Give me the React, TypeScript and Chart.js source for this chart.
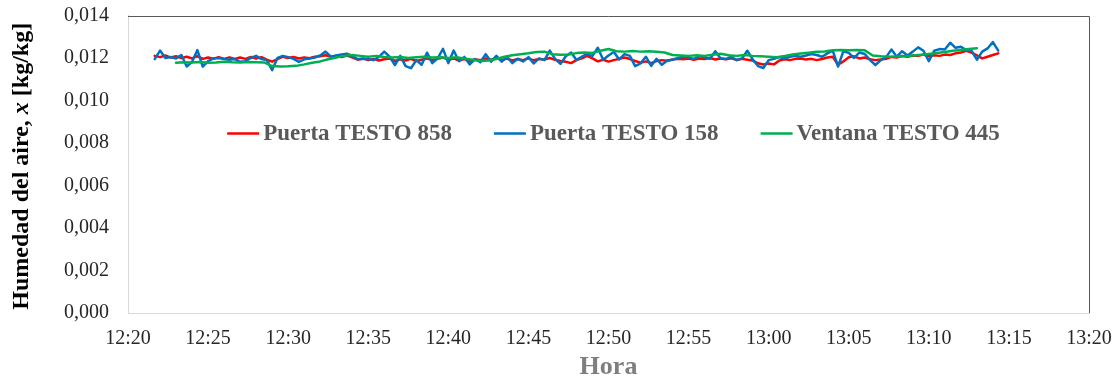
import { useEffect, useRef } from "react";
import { Chart, registerables } from "chart.js";

Chart.register(...registerables);

// Series shown in the legend
const SERIES_NAMES = ["Puerta TESTO 858", "Puerta TESTO 158", "Ventana TESTO 445"];
const SERIES_COLORS = ["#FF0000", "#0070C0", "#00B050"];

// Axis labels
const X_TITLE = "Hora";
const Y_TITLE_PARTS = ["Humedad del aire, ", "x", " [kg/kg]"];
const X_TICKS = ["12:20", "12:25", "12:30", "12:35", "12:40", "12:45", "12:50", "12:55", "13:00", "13:05", "13:10", "13:15", "13:20"];
const Y_TICKS = ["0,000", "0,002", "0,004", "0,006", "0,008", "0,010", "0,012", "0,014"];

// Time axis, minutes since midnight
const X_MIN = 740; // 12:20
const X_MAX = 800; // 13:20

// Door loggers: first reading 12:21:40, one reading every 20 s
const PUERTA_START = 741 + 40 / 60;
const PUERTA_STEP = 20 / 60;
// Window logger: first reading 12:23:00, one reading every 30 s
const VENTANA_START = 743;
const VENTANA_STEP = 30 / 60;

// Air humidity readings, kg/kg
const PUERTA_858 = [
  0.0121, 0.01204, 0.01212, 0.01202, 0.01208, 0.0120, 0.01206, 0.01198, 0.01209, 0.01196,
  0.01202, 0.01197, 0.01204, 0.01196, 0.01203, 0.01195, 0.01202, 0.01196, 0.01205, 0.01198,
  0.01204, 0.01192, 0.01183, 0.01195, 0.01206, 0.0120, 0.01205, 0.01198, 0.01203, 0.01199,
  0.01206, 0.01208, 0.01213, 0.01206, 0.0121, 0.01204, 0.01212, 0.01203, 0.01192, 0.01198,
  0.0119, 0.01196, 0.01188, 0.01194, 0.01198, 0.01186, 0.01194, 0.01188, 0.01196, 0.01186,
  0.01192, 0.01198, 0.0119, 0.01196, 0.01202, 0.01192, 0.01198, 0.01188, 0.01195, 0.01186,
  0.01194, 0.0119, 0.01198, 0.01192, 0.01199, 0.01191, 0.01197, 0.01188, 0.01195, 0.0119,
  0.01198, 0.01189, 0.01195, 0.01193, 0.0120, 0.01192, 0.01186, 0.01182, 0.01176, 0.0119,
  0.01198, 0.0121, 0.01198, 0.01184, 0.01192, 0.01183, 0.0119, 0.01196, 0.01202, 0.01195,
  0.01186, 0.01178, 0.01184, 0.01176, 0.01186, 0.0119, 0.01187, 0.01193, 0.01196, 0.01194,
  0.01198, 0.01192, 0.01197, 0.01195, 0.0120, 0.01193, 0.01198, 0.01194, 0.01199, 0.01191,
  0.01196, 0.01192, 0.01188, 0.01175, 0.01169, 0.01174, 0.0117, 0.01188, 0.01194, 0.0119,
  0.01196, 0.01198, 0.01193, 0.01196, 0.0119, 0.01195, 0.01202, 0.01206, 0.01168, 0.01184,
  0.01204, 0.01208, 0.01198, 0.01202, 0.01194, 0.0119, 0.01193, 0.01196, 0.01205, 0.01202,
  0.0121, 0.01206, 0.01212, 0.0121, 0.01216, 0.01208, 0.01213, 0.0121, 0.01216, 0.01214,
  0.01222, 0.01226, 0.01234, 0.01225, 0.01212, 0.01198, 0.01206, 0.01214, 0.01222,
];

const PUERTA_158 = [
  0.01195, 0.01235, 0.0120, 0.01205, 0.01198, 0.01214, 0.0116, 0.01182, 0.01237, 0.0116,
  0.01185, 0.01198, 0.0120, 0.01195, 0.01192, 0.01195, 0.01182, 0.01185, 0.0120, 0.0121,
  0.01195, 0.0119, 0.01143, 0.0120, 0.0121, 0.01204, 0.01196, 0.01182, 0.01194, 0.01198,
  0.01202, 0.01212, 0.0123, 0.01206, 0.01212, 0.01216, 0.0122, 0.0121, 0.01195, 0.01196,
  0.01195, 0.0119, 0.01205, 0.0123, 0.01206, 0.01167, 0.0121, 0.01162, 0.01152, 0.0119,
  0.01168, 0.01225, 0.01176, 0.01198, 0.01243, 0.01176, 0.01235, 0.01185, 0.01205, 0.0117,
  0.01195, 0.0118, 0.01218, 0.01183, 0.0121, 0.01183, 0.01206, 0.01176, 0.01196, 0.01184,
  0.01204, 0.01175, 0.01198, 0.0119, 0.01235, 0.01196, 0.01172, 0.01208, 0.01226, 0.01191,
  0.01206, 0.01218, 0.0121, 0.01248, 0.01192, 0.01212, 0.01228, 0.01193, 0.01218, 0.0121,
  0.01162, 0.01175, 0.01206, 0.01163, 0.01196, 0.01168, 0.01188, 0.01192, 0.0120, 0.01206,
  0.01203, 0.01196, 0.01208, 0.01204, 0.01196, 0.01232, 0.01198, 0.01195, 0.01206, 0.0119,
  0.01198, 0.01234, 0.01194, 0.01162, 0.01153, 0.0119, 0.01196, 0.01204, 0.01199, 0.01206,
  0.0121, 0.01206, 0.01212, 0.01219, 0.01214, 0.01206, 0.01222, 0.01235, 0.0116, 0.01232,
  0.01224, 0.0120, 0.01226, 0.01219, 0.0119, 0.01167, 0.0119, 0.01204, 0.0124, 0.01206,
  0.01232, 0.01212, 0.0123, 0.0125, 0.01234, 0.01185, 0.01234, 0.01242, 0.0124, 0.01272,
  0.01248, 0.01253, 0.01237, 0.01234, 0.01192, 0.0123, 0.01245, 0.01275, 0.01235,
];

const VENTANA_445 = [
  0.01178, 0.0118, 0.01179, 0.01181, 0.01178, 0.01179, 0.01182, 0.0118, 0.01179, 0.01181,
  0.0118, 0.01179, 0.01162, 0.0116, 0.01161, 0.01163, 0.0117, 0.01178, 0.01184, 0.01194,
  0.01202, 0.0121, 0.01214, 0.0121, 0.01206, 0.0121, 0.01205, 0.01202, 0.01205, 0.0120,
  0.01203, 0.01206, 0.01202, 0.01204, 0.0120, 0.01203, 0.01198, 0.01192, 0.01186, 0.01188,
  0.01195, 0.01206, 0.01213, 0.01218, 0.01222, 0.01228, 0.0123, 0.01218, 0.01215, 0.01216,
  0.01223, 0.01226, 0.01224, 0.01234, 0.01242, 0.01232, 0.0123, 0.01233, 0.0123, 0.01232,
  0.01229, 0.01226, 0.01214, 0.01212, 0.0121, 0.01213, 0.0121, 0.01215, 0.0122, 0.01213,
  0.0121, 0.01214, 0.0121, 0.01208, 0.01206, 0.01204, 0.01209, 0.01216, 0.01221, 0.01225,
  0.01229, 0.01231, 0.01236, 0.01238, 0.01236, 0.01238, 0.01236, 0.01212, 0.01208, 0.01206,
  0.01207, 0.01208, 0.01212, 0.01215, 0.01219, 0.01223, 0.01228, 0.01234, 0.01238, 0.01242,
  0.01246,
];

const SERIF = "'Liberation Serif', 'Times New Roman', serif";

function toPoints(values: number[], start: number, step: number) {
  return values.map((y, i) => ({ x: start + i * step, y }));
}

// Label overhang is handled by the explicit layout padding
function clearScalePadding(scale: any) {
  scale.paddingTop = 0;
  scale.paddingBottom = 0;
  scale.paddingLeft = 0;
  scale.paddingRight = 0;
}

// Frame, in-plot legend and axis titles
const decorPlugin = {
  id: "decor",
  afterDraw(chart: any) {
    const { ctx, chartArea: a } = chart;
    ctx.save();

    // dark top and right edges of the plot frame
    ctx.strokeStyle = "#595959";
    ctx.lineWidth = 1;
    ctx.beginPath();
    ctx.moveTo(a.left, Math.round(a.top) + 0.5);
    ctx.lineTo(Math.round(a.right) + 0.5, Math.round(a.top) + 0.5);
    ctx.lineTo(Math.round(a.right) + 0.5, a.bottom);
    ctx.stroke();

    // legend, centred inside the plot
    ctx.font = `bold 23px ${SERIF}`;
    const lineLen = 32;
    const lineGap = 4;
    const itemGap = 42;
    const widths = SERIES_NAMES.map((n) => ctx.measureText(n).width);
    const total = widths.reduce((s, w) => s + w + lineLen + lineGap, 0) + itemGap * (SERIES_NAMES.length - 1);
    let x = (a.left + a.right) / 2 + 5 - total / 2;
    const ly = a.top + 118;
    ctx.textBaseline = "middle";
    ctx.textAlign = "left";
    SERIES_NAMES.forEach((name, i) => {
      ctx.strokeStyle = SERIES_COLORS[i];
      ctx.lineWidth = 2.5;
      ctx.beginPath();
      ctx.moveTo(x, ly);
      ctx.lineTo(x + lineLen, ly);
      ctx.stroke();
      x += lineLen + lineGap;
      ctx.fillStyle = "#595959";
      ctx.fillText(name, x, ly + 1);
      x += widths[i] + itemGap;
    });

    // x axis title
    ctx.font = `bold 26px ${SERIF}`;
    ctx.fillStyle = "#7F7F7F";
    ctx.textAlign = "center";
    ctx.fillText(X_TITLE, (a.left + a.right) / 2, 367);

    // y axis title, rotated, with an italic variable
    const fonts = [`bold 24px ${SERIF}`, `italic bold 24px ${SERIF}`, `bold 24px ${SERIF}`];
    const partW = Y_TITLE_PARTS.map((p, i) => {
      ctx.font = fonts[i];
      return ctx.measureText(p).width;
    });
    const fullW = partW.reduce((s, w) => s + w, 0);
    ctx.translate(22, (a.top + a.bottom) / 2 + 2);
    ctx.rotate(-Math.PI / 2);
    ctx.textAlign = "left";
    ctx.fillStyle = "#000000";
    let px = -fullW / 2;
    Y_TITLE_PARTS.forEach((p, i) => {
      ctx.font = fonts[i];
      ctx.fillText(p, px, 0);
      px += partW[i];
    });

    ctx.restore();
  },
};

export default function App() {
  const canvasRef = useRef<HTMLCanvasElement | null>(null);

  useEffect(() => {
    const canvas = canvasRef.current;
    if (!canvas) return;
    const chart = new Chart(canvas, {
      type: "line",
      data: {
        datasets: [
          {
            label: SERIES_NAMES[0],
            data: toPoints(PUERTA_858, PUERTA_START, PUERTA_STEP),
            borderColor: SERIES_COLORS[0],
            order: 3,
          },
          {
            label: SERIES_NAMES[1],
            data: toPoints(PUERTA_158, PUERTA_START, PUERTA_STEP),
            borderColor: SERIES_COLORS[1],
            order: 2,
          },
          {
            label: SERIES_NAMES[2],
            data: toPoints(VENTANA_445, VENTANA_START, VENTANA_STEP),
            borderColor: SERIES_COLORS[2],
            order: 1,
          },
        ],
      },
      options: {
        animation: false,
        responsive: false,
        devicePixelRatio: 1,
        elements: {
          line: { borderWidth: 2.5, tension: 0, borderJoinStyle: "round", borderCapStyle: "round", fill: false },
          point: { radius: 0, hoverRadius: 0 },
        },
        layout: { autoPadding: false, padding: { top: 15.5, right: 29, bottom: 0, left: 0 } },
        plugins: {
          legend: { display: false },
          tooltip: { enabled: false },
          title: { display: false },
        },
        scales: {
          x: {
            type: "linear",
            min: X_MIN,
            max: X_MAX,
            grid: { display: false, drawTicks: false },
            border: { display: true, color: "#D9D9D9", width: 1 },
            ticks: {
              stepSize: 5,
              padding: 14,
              maxRotation: 0,
              autoSkip: false,
              color: "#262626",
              font: { family: SERIF, size: 20 },
              callback: (_v: any, i: number) => X_TICKS[i],
            },
            afterFit: (scale: any) => {
              scale.height = 67;
              clearScalePadding(scale);
            },
          },
          y: {
            min: 0,
            max: 0.014,
            grid: { display: false, drawTicks: false },
            border: { display: true, color: "#D9D9D9", width: 1 },
            ticks: {
              stepSize: 0.002,
              padding: 19,
              color: "#262626",
              font: { family: SERIF, size: 20 },
              callback: (_v: any, i: number) => Y_TICKS[i],
            },
            afterFit: (scale: any) => {
              scale.width = 128;
              clearScalePadding(scale);
            },
          },
        },
      },
      plugins: [decorPlugin],
    });
    return () => chart.destroy();
  }, []);

  return (
    <div style={{ position: "absolute", left: 0, top: 0, width: 1118, height: 380, background: "#ffffff" }}>
      <canvas ref={canvasRef} width={1118} height={380} style={{ display: "block" }} />
    </div>
  );
}
